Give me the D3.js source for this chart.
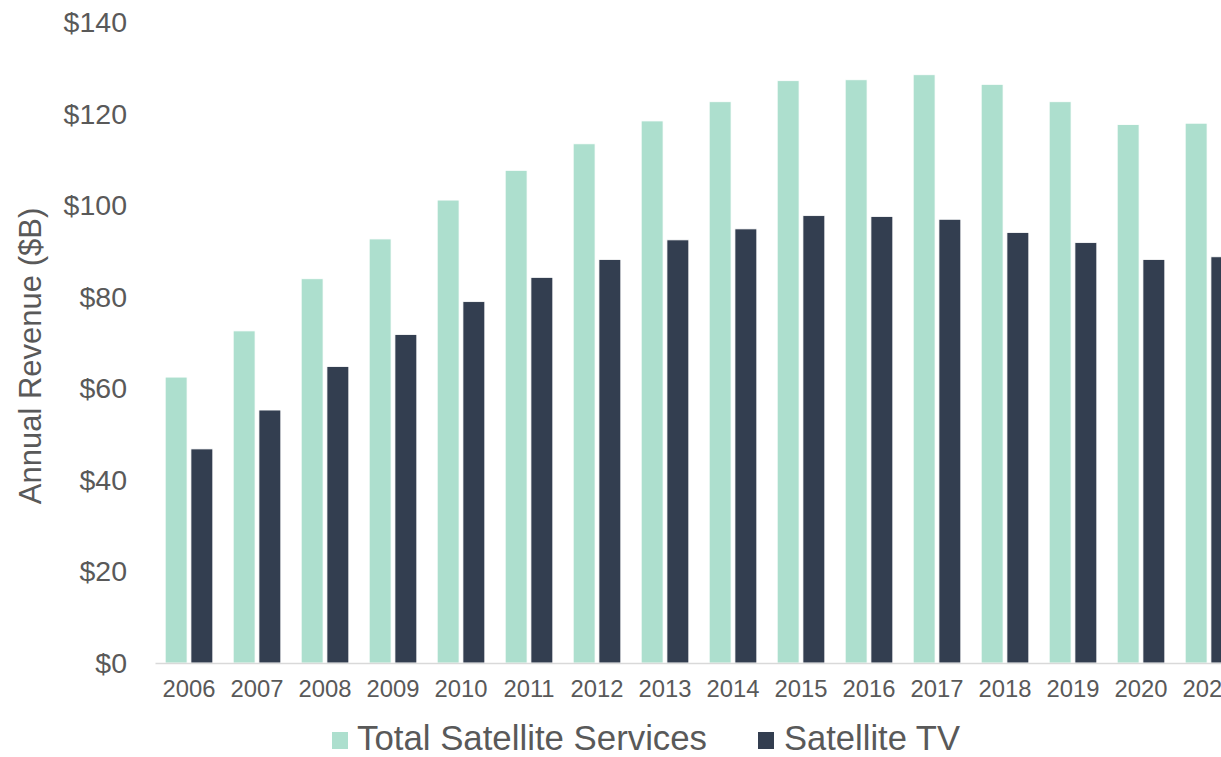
<!DOCTYPE html>
<html>
<head>
<meta charset="utf-8">
<script src="https://cdn.jsdelivr.net/npm/d3@7"></script>
<style>
  html, body { margin: 0; padding: 0; background: #fff; }
  svg { display: block; font-family: "Liberation Sans", Arial, sans-serif; }
</style>
</head>
<body>
<svg id="chart" width="1221" height="757"></svg>
<script>
const years = ["2006","2007","2008","2009","2010","2011","2012","2013","2014","2015","2016","2017","2018","2019","2020","2021"];
const totalServices = [62.5, 72.6, 84.0, 92.7, 101.2, 107.7, 113.5, 118.5, 122.7, 127.3, 127.5, 128.6, 126.5, 122.7, 117.7, 118.0];
const satelliteTV   = [46.8, 55.3, 64.8, 71.8, 79.0, 84.3, 88.2, 92.5, 94.9, 97.8, 97.6, 97.0, 94.1, 91.9, 88.2, 88.8];
const seriesNames = ["Total Satellite Services", "Satellite TV"];
const seriesColors = ["#ADDFCE", "#333E50"];
const yTicks = [0, 20, 40, 60, 80, 100, 120, 140];

const svg = d3.select("#chart");
const textColor = "#595959";

const x0 = d3.scaleBand().domain(years).range([155, 1243]).paddingInner(0.3).paddingOuter(0.15);
const x1 = d3.scaleBand().domain([0, 1]).range([0, x0.bandwidth()]).paddingInner(0.15);
const y = d3.scaleLinear().domain([0, 140]).range([663, 22.6]);

const data = years.map((yr, i) => ({ year: yr, values: [totalServices[i], satelliteTV[i]] }));

// bars
const groups = svg.append("g").selectAll("g").data(data).join("g")
  .attr("transform", d => `translate(${x0(d.year)},0)`);
groups.selectAll("rect").data(d => d.values.map((v, k) => ({ k, v }))).join("rect")
  .attr("x", d => x1(d.k))
  .attr("width", x1.bandwidth())
  .attr("y", d => y(d.v))
  .attr("height", d => y(0) - y(d.v))
  .attr("fill", d => seriesColors[d.k])
  .attr("stroke", "#fff")
  .attr("stroke-width", 0.8);

// x axis
const xAxis = svg.append("g").attr("transform", `translate(0,${y(0)})`)
  .call(d3.axisBottom(x0).tickSize(0).tickPadding(17));
xAxis.select(".domain").attr("stroke", "#D9D9D9").attr("stroke-width", 1.3);
xAxis.selectAll("text").attr("font-size", 23.8).attr("fill", textColor)
  .attr("font-family", "'Liberation Sans', Arial, sans-serif");

// y axis
const yAxis = svg.append("g").attr("transform", "translate(140,0)")
  .call(d3.axisLeft(y).tickValues(yTicks).tickSize(0).tickPadding(13).tickFormat(d => "$" + d));
yAxis.select(".domain").remove();
yAxis.selectAll("text").attr("font-size", 28.5).attr("fill", textColor)
  .attr("font-family", "'Liberation Sans', Arial, sans-serif");

// y title
svg.append("text")
  .attr("transform", "translate(41,356) rotate(-90)")
  .attr("text-anchor", "middle")
  .attr("font-size", 31)
  .attr("fill", textColor)
  .text("Annual Revenue ($B)");

// legend
const legendItems = [
  { name: seriesNames[0], color: seriesColors[0], sx: 332, tx: 357 },
  { name: seriesNames[1], color: seriesColors[1], sx: 758, tx: 784 }
];
const lg = svg.append("g");
lg.selectAll("rect").data(legendItems).join("rect")
  .attr("x", d => d.sx).attr("y", 732).attr("width", 16).attr("height", 17)
  .attr("fill", d => d.color);
lg.selectAll("text").data(legendItems).join("text")
  .attr("x", d => d.tx).attr("y", 749.5)
  .attr("font-size", 34.5)
  .attr("textLength", (d, i) => i === 0 ? 350 : 176)
  .attr("lengthAdjust", "spacingAndGlyphs")
  .attr("fill", textColor)
  .text(d => d.name);
</script>
</body>
</html>
